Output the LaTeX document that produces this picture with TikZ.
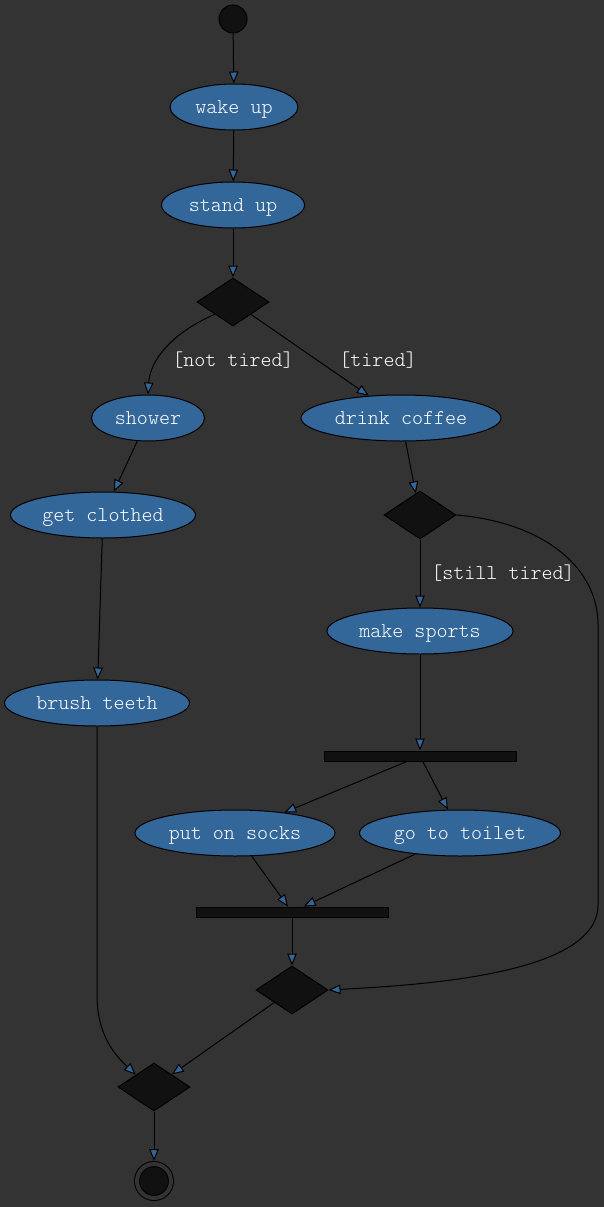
\documentclass[tikz,border=0pt]{standalone}
\usepackage{fontspec}
\setmonofont{Latin Modern Mono Light}
\usetikzlibrary{shapes.geometric, arrows.meta}
\definecolor{bggray}{RGB}{51, 51, 51}
\definecolor{actblue}{RGB}{51, 102, 153}
\definecolor{darkfill}{RGB}{17, 17, 17}

\begin{document}
\begin{tikzpicture}[x=1pt, y=-1pt, line width=1pt,
    act/.style={draw, ellipse, fill=actblue, text=white, minimum height=46pt, inner sep=0pt, text height=14pt, text depth=2pt, font=\ttfamily\fontsize{21}{24}\selectfont},
    choice/.style={draw, diamond, fill=darkfill, minimum width=72pt, minimum height=48pt, inner sep=0pt},
    bar/.style={draw, rectangle, fill=darkfill, minimum width=192pt, minimum height=10pt, inner sep=0pt},
    guard/.style={text=white, text height=14pt, text depth=2pt, font=\ttfamily\fontsize{21}{24}\selectfont},
    arrow/.style={-{Triangle[length=12pt, width=9.5pt, fill=actblue]}}]
\fill[bggray] (0,0) rectangle (604,1207);

\node[circle, draw, fill=darkfill, minimum size=28pt, inner sep=0pt] (start) at (233,19) {};
\node[act, minimum width=128pt] (wake) at (234,107) {wake up};
\node[act, minimum width=143pt] (stand) at (233,205) {stand up};
\node[choice] (c1) at (233,302) {};
\node[act, minimum width=113pt] (shower) at (148,418) {shower};
\node[act, minimum width=200pt] (coffee) at (401,418) {drink coffee};
\node[act, minimum width=185pt] (clothed) at (103,515) {get clothed};
\node[choice] (c2) at (420,515) {};
\node[act, minimum width=186pt] (sports) at (420,631) {make sports};
\node[act, minimum width=185pt] (teeth) at (97,703) {brush teeth};
\node[bar] (fork) at (420,756) {};
\node[act, minimum width=200pt] (socks) at (235,833) {put on socks};
\node[act, minimum width=201pt] (toilet) at (460,833) {go to toilet};
\node[bar] (join) at (292,912) {};
\node[choice] (c3) at (292,990) {};
\node[choice] (c4) at (154,1087) {};
\node[circle, draw, fill=darkfill, double=bggray, double distance=4pt, minimum size=34pt, inner sep=0pt, outer sep=3pt] (end) at (154,1181) {};

\draw[arrow] (start) -- (wake);
\draw[arrow] (wake) -- (stand);
\draw[arrow] (stand) -- (c1);
\draw[arrow] (c1.south west) .. controls (172,333) and (150,360) .. (shower.north) node[guard] at (233,360) {[not tired]};
\draw[arrow] (c1) -- (coffee) node[guard] at (378,360) {[tired]};
\draw[arrow] (shower) -- (clothed);
\draw[arrow] (coffee) -- (c2);
\draw[arrow] (clothed) -- (teeth);
\draw[arrow] (c2) -- (sports) node[guard] at (503,573) {[still tired]};
\draw[arrow] (c2.east) .. controls (540,522) and (598,565) .. (598,625) -- (598,905) .. controls (598,975) and (420,985) .. (c3.east);
\draw[arrow] (sports) -- (fork);
\draw[arrow] (fork) -- (socks);
\draw[arrow] (fork) -- (toilet);
\draw[arrow] (socks) -- (join);
\draw[arrow] (toilet) -- (join);
\draw[arrow] (join) -- (c3);
\draw[arrow] (teeth) -- (97,995) .. controls (97,1035) and (115,1055) .. (c4.north west);
\draw[arrow] (c3) -- (c4);
\draw[arrow] (c4) -- (end);
\end{tikzpicture}
\end{document}
